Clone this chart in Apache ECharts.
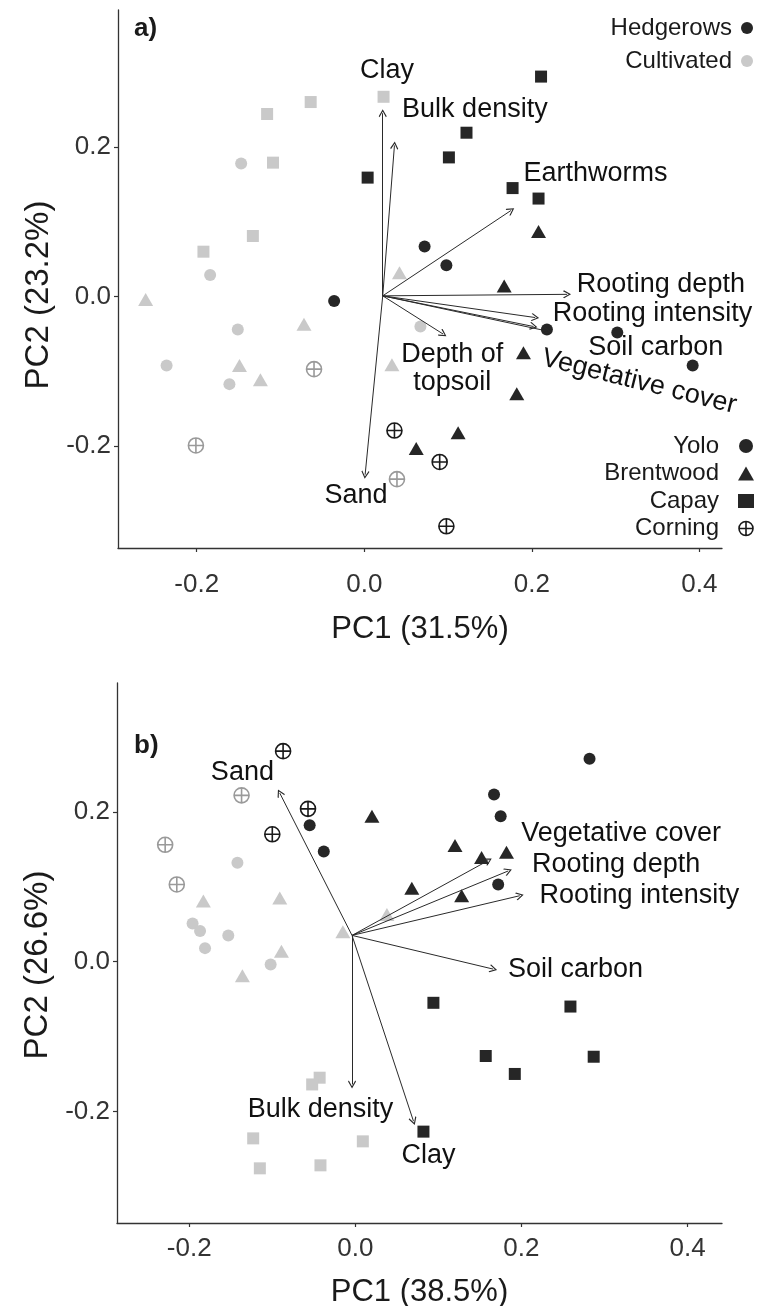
<!DOCTYPE html>
<html><head><meta charset="utf-8">
<script src="https://cdn.jsdelivr.net/npm/echarts@6/dist/echarts.min.js"></script>
<style>html,body{margin:0;padding:0;background:#fff}#c{width:760px;height:1306px}</style>
</head><body><div id="c"></div>
<script>
// ---------- tick labels ----------
const ticksX = [-0.2, 0.0, 0.2, 0.4];
const ticksY = [-0.2, 0.0, 0.2];
const sites = ['Yolo', 'Brentwood', 'Capay', 'Corning'];
const treatments = ['Hedgerows', 'Cultivated'];
const axisTitlesA = ['PC1 (31.5%)', 'PC2 (23.2%)'];
const axisTitlesB = ['PC1 (38.5%)', 'PC2 (26.6%)'];

// ---------- panel a : scores ----------
const aHedgeYolo      = [[0.072,0.067],[0.098,0.042],[-0.036,-0.006],[0.218,-0.044],[0.302,-0.048],[0.392,-0.092]];
const aHedgeBrentwood = [[0.208,0.087],[0.167,0.014],[0.190,-0.075],[0.182,-0.130],[0.112,-0.182],[0.062,-0.203]];
const aHedgeCapay     = [[0.211,0.294],[0.122,0.219],[0.101,0.186],[0.177,0.145],[0.208,0.131],[0.004,0.159]];
const aHedgeCorning   = [[0.036,-0.179],[0.090,-0.221],[0.098,-0.307]];
const aCultYolo       = [[-0.147,0.178],[-0.184,0.029],[-0.151,-0.044],[-0.236,-0.092],[-0.161,-0.117],[0.067,-0.040]];
const aCultBrentwood  = [[-0.261,-0.004],[0.042,0.032],[-0.072,-0.037],[-0.149,-0.092],[-0.124,-0.111],[0.033,-0.091]];
const aCultCapay      = [[0.023,0.267],[-0.064,0.260],[-0.116,0.244],[-0.109,0.179],[-0.133,0.081],[-0.192,0.060]];
const aCultCorning    = [[-0.060,-0.097],[-0.201,-0.199],[0.039,-0.244]];

// ---------- panel a : loadings ----------
const aOrigin = [0.022, 0.001];
const aVarNames = ['Clay','Bulk density','Earthworms','Rooting depth','Rooting intensity','Soil carbon','Vegetative cover','Depth of\ntopsoil','Sand'];
const aVarEnds  = [[0.022,0.245],[0.036,0.202],[0.175,0.115],[0.242,0.003],[0.204,-0.028],[0.202,-0.040],[0.218,-0.046],[0.094,-0.050],[0.001,-0.238]];
const aVarLabelPos = [[0.027,0.302],[0.132,0.250],[0.276,0.164],[0.354,0.016],[0.344,-0.023],[0.348,-0.068],[0.328,-0.114],[0.105,-0.096],[-0.010,-0.266]];

// ---------- panel b : scores ----------
const bHedgeYolo      = [[0.282,0.271],[0.167,0.223],[0.175,0.194],[0.172,0.103],[-0.055,0.182],[-0.038,0.147]];
const bHedgeBrentwood = [[0.020,0.194],[0.068,0.098],[0.120,0.155],[0.152,0.139],[0.182,0.146],[0.128,0.088]];
const bHedgeCapay     = [[0.094,-0.055],[0.259,-0.060],[0.157,-0.126],[0.287,-0.127],[0.192,-0.150],[0.082,-0.227]];
const bHedgeCorning   = [[-0.087,0.281],[-0.057,0.204],[-0.100,0.170]];
const bCultYolo       = [[-0.142,0.132],[-0.196,0.051],[-0.187,0.041],[-0.153,0.035],[-0.181,0.018],[-0.102,-0.004]];
const bCultBrentwood  = [[-0.183,0.081],[-0.091,0.085],[-0.015,0.040],[0.038,0.063],[-0.089,0.014],[-0.136,-0.019]];
const bCultCapay      = [[-0.043,-0.155],[-0.052,-0.164],[-0.123,-0.236],[0.009,-0.240],[-0.115,-0.276],[-0.042,-0.272]];
const bCultCorning    = [[-0.137,0.222],[-0.229,0.156],[-0.215,0.103]];

// ---------- panel b : loadings ----------
const bOrigin = [-0.004, 0.035];
const bVarNames = ['Sand','Vegetative cover','Rooting depth','Rooting intensity','Soil carbon','Bulk density','Clay'];
const bVarEnds  = [[-0.091,0.225],[0.160,0.135],[0.184,0.121],[0.198,0.088],[0.166,-0.010],[-0.004,-0.164],[0.070,-0.213]];
const bVarLabelPos = [[-0.136,0.252],[0.320,0.171],[0.314,0.130],[0.342,0.088],[0.265,-0.010],[-0.042,-0.198],[0.088,-0.259]];

// ---------- styling ----------
const FONT = '"Liberation Sans", Arial, sans-serif';
const DARK = '#262626';
const LIGHT = '#c9c9c9';
const LIGHT_RING = '#9a9a9a';
const CORNING = 'path://M0,10A10,10,0,1,1,20,10A10,10,0,1,1,0,10ZM10,0L10,20M0,10L20,10';
const ARROW = 'path://M5,0L10,7L9,8L5,2.2L1,8L0,7Z';
const siteSymbol = {Yolo: 'circle', Brentwood: 'triangle', Capay: 'rect', Corning: CORNING};
const siteSize = {Yolo: 12, Brentwood: [15, 13], Capay: 12, Corning: 15};

const panels = [
  {grid: {left: 118, top: 10, width: 604, height: 538},
   hedge: {Yolo: aHedgeYolo, Brentwood: aHedgeBrentwood, Capay: aHedgeCapay, Corning: aHedgeCorning},
   cult:  {Yolo: aCultYolo, Brentwood: aCultBrentwood, Capay: aCultCapay, Corning: aCultCorning},
   origin: aOrigin, names: aVarNames, ends: aVarEnds, labels: aVarLabelPos,
   xr: [-0.294, 0.427], yr: [-0.336, 0.383], titles: axisTitlesA, xNameGap: 66, xLabelMargin: 24, yPad: 32},
  {grid: {left: 117, top: 683, width: 605, height: 540},
   hedge: {Yolo: bHedgeYolo, Brentwood: bHedgeBrentwood, Capay: bHedgeCapay, Corning: bHedgeCorning},
   cult:  {Yolo: bCultYolo, Brentwood: bCultBrentwood, Capay: bCultCapay, Corning: bCultCorning},
   origin: bOrigin, names: bVarNames, ends: bVarEnds, labels: bVarLabelPos,
   xr: [-0.287, 0.4415], yr: [-0.349, 0.372], titles: axisTitlesB, xNameGap: 54, xLabelMargin: 13, yPad: 24}
];

const grids = [], xAxes = [], yAxes = [], series = [];
panels.forEach((p, i) => {
  grids.push(Object.assign({outerBoundsMode: 'none', containLabel: false}, p.grid));
  const common = {
    type: 'value', gridIndex: i, splitLine: {show: false},
    axisLine: {show: true, onZero: false, lineStyle: {color: '#333', width: 1.3}},
    axisTick: {show: true, length: 4, inside: false, lineStyle: {color: '#333', width: 1.2}},
    nameLocation: 'middle'
  };
  xAxes.push(Object.assign({}, common, {
    min: p.xr[0], max: p.xr[1], name: p.titles[0], nameGap: p.xNameGap,
    nameTextStyle: {fontFamily: FONT, fontSize: 31, color: '#1a1a1a'},
    axisTick: Object.assign({}, common.axisTick, {customValues: ticksX}),
    axisLabel: {customValues: ticksX, formatter: v => v.toFixed(1), fontFamily: FONT, fontSize: 26, color: '#333', margin: p.xLabelMargin}
  }));
  yAxes.push(Object.assign({}, common, {
    min: p.yr[0], max: p.yr[1], name: p.titles[1], nameGap: 60, nameRotate: 90,
    nameTextStyle: {fontFamily: FONT, fontSize: 33, color: '#1a1a1a', padding: [0, p.yPad, 0, 0]},
    axisTick: Object.assign({}, common.axisTick, {customValues: ticksY}),
    axisLabel: {customValues: ticksY, formatter: v => v.toFixed(1), fontFamily: FONT, fontSize: 26, color: '#333', margin: 7}
  }));

  // scatter series, one per site
  sites.forEach(s => {
    const isC = s === 'Corning';
    const pts = [];
    p.hedge[s].forEach(v => pts.push({value: v, itemStyle: isC ? {color: 'rgba(0,0,0,0)', borderColor: '#1a1a1a', borderWidth: 1.6, opacity: 1} : {color: DARK, opacity: 1}}));
    p.cult[s].forEach(v => pts.push({value: v, itemStyle: isC ? {color: 'rgba(0,0,0,0)', borderColor: LIGHT_RING, borderWidth: 1.6, opacity: 1} : {color: LIGHT, opacity: 1}}));
    series.push({
      type: 'scatter', name: s, xAxisIndex: i, yAxisIndex: i,
      symbol: siteSymbol[s], symbolSize: siteSize[s],
      itemStyle: isC ? {color: 'rgba(0,0,0,0)', borderColor: '#1a1a1a', borderWidth: 1.6, opacity: 1} : {color: DARK, opacity: 1},
      data: pts, z: 2, silent: true
    });
  });

  // loading arrows
  series.push({
    type: 'lines', coordinateSystem: 'cartesian2d', xAxisIndex: i, yAxisIndex: i,
    symbol: ['none', ARROW], symbolSize: 8,
    lineStyle: {color: '#2a2a2a', width: 1, opacity: 1},
    data: p.ends.map(e => ({coords: [p.origin, e]})), z: 3, silent: true
  });

  // loading labels
  series.push({
    type: 'scatter', xAxisIndex: i, yAxisIndex: i, symbolSize: 0, z: 4, silent: true,
    itemStyle: {color: 'rgba(0,0,0,0)', opacity: 1},
    label: {show: true, position: 'inside', formatter: '{b}', fontFamily: FONT, fontSize: 27, color: '#111', opacity: 1, align: 'center', lineHeight: 28},
    data: p.names.map((n, k) => {
      const d = {name: n, value: p.labels[k]};
      if (n === 'Vegetative cover' && i === 0) d.label = {rotate: -14};
      return d;
    })
  });
});

// dummy series for treatment legend
treatments.forEach((t, k) => series.push({type: 'scatter', name: t, xAxisIndex: 0, yAxisIndex: 0, data: [], itemStyle: {color: k === 0 ? DARK : LIGHT, opacity: 1}}));

const chart = echarts.init(document.getElementById('c'), null, {renderer: 'canvas'});
chart.setOption({
  animation: false,
  backgroundColor: '#fff',
  title: [
    {text: 'a)', left: 134, top: 16, padding: 0, textStyle: {fontFamily: FONT, fontSize: 26, fontWeight: 'bold', color: '#1a1a1a'}},
    {text: 'b)', left: 134, top: 733, padding: 0, textStyle: {fontFamily: FONT, fontSize: 26, fontWeight: 'bold', color: '#1a1a1a'}}
  ],
  legend: [
    {orient: 'vertical', right: 7, top: 14, padding: 0, align: 'right', itemWidth: 12, itemHeight: 12, itemGap: 5, selectedMode: false,
     textStyle: {fontFamily: FONT, fontSize: 24, color: '#1a1a1a', lineHeight: 28, padding: [0, 4, 0, 0]},
     data: [{name: treatments[0], icon: 'circle', itemStyle: {color: DARK}},
            {name: treatments[1], icon: 'circle', itemStyle: {color: LIGHT}}]},
    {orient: 'vertical', right: 6, top: 433, padding: 0, align: 'right', itemWidth: 16, itemHeight: 14, itemGap: 1.5, selectedMode: false,
     textStyle: {fontFamily: FONT, fontSize: 24, color: '#1a1a1a', lineHeight: 26, padding: [0, 14, 0, 0]},
     data: [{name: sites[0], icon: 'circle', itemStyle: {color: DARK}},
            {name: sites[1], icon: 'triangle', itemStyle: {color: DARK}},
            {name: sites[2], icon: 'rect', itemStyle: {color: DARK}},
            {name: sites[3], icon: CORNING, itemStyle: {color: 'rgba(0,0,0,0)', borderColor: '#1a1a1a', borderWidth: 1.6}}]}
  ],
  grid: grids, xAxis: xAxes, yAxis: yAxes, series: series
});
</script></body></html>
